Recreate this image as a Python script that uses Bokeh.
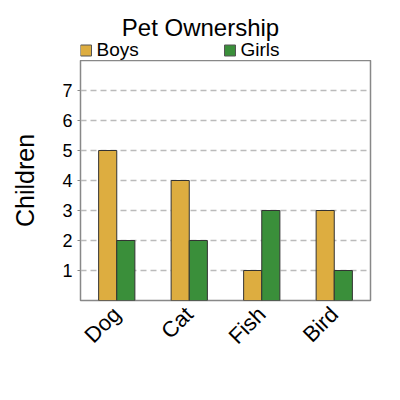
import math
from bokeh.plotting import figure
from bokeh.layouts import column
from bokeh.models import FixedTicker, FactorRange, Range1d
from bokeh.core.properties import value
from bokeh.transform import dodge
from bokeh.embed import file_html
from bokeh.resources import INLINE

categories = ["Dog", "Cat", "Fish", "Bird"]
boys = [5, 4, 1, 3]
girls = [2, 2, 3, 1]
y_ticks = [1, 2, 3, 4, 5, 6, 7]
series_names = ["Boys", "Girls"]
series_colors = ["#DDAD40", "#3A8F3A"]
title_text = "Pet Ownership"

FONT = "Liberation Sans"

# ---- header: title + legend (header frame aligned with main frame; pixel units, y down) ----
h = figure(width=384, height=60, output_backend="svg", toolbar_location=None,
           x_range=Range1d(80, 370), y_range=Range1d(60, 0),
           x_axis_location=None, y_axis_location=None,
           min_border_left=80, min_border_right=14, min_border_top=0, min_border_bottom=0)
h.title = None
h.outline_line_color = None
h.grid.grid_line_color = None

h.text(x=[200], y=[27], text=[title_text], text_align="center", text_baseline="alphabetic",
       text_font=value(FONT), text_font_size="24px", text_color="black")

legend_x = [80, 224]
h.rect(x=[lx + 5.5 for lx in legend_x], y=[50, 50], width=11, height=11,
       fill_color=series_colors, line_color="#555555", line_width=1)
h.text(x=[lx + 16 for lx in legend_x], y=[49, 49], text=series_names,
       text_align="left", text_baseline="alphabetic",
       text_font=value(FONT), text_font_size="19px", text_color="black")

# ---- main chart ----
p = figure(x_range=FactorRange(*categories, range_padding=0), y_range=Range1d(0, 8),
           width=384, height=324, output_backend="svg", toolbar_location=None,
           min_border_left=80, min_border_right=14, min_border_top=0, min_border_bottom=84)
p.title = None

src = dict(cat=categories, boys=boys, girls=girls)
p.vbar(x=dodge('cat', -0.125, range=p.x_range), top='boys', width=0.25, source=src,
       fill_color=series_colors[0], line_color="#333333", line_width=1)
p.vbar(x=dodge('cat', 0.125, range=p.x_range), top='girls', width=0.25, source=src,
       fill_color=series_colors[1], line_color="#333333", line_width=1)

p.outline_line_color = "#888888"
p.outline_line_width = 1.5

p.xgrid.grid_line_color = None
p.ygrid.grid_line_color = "#BBBBBB"
p.ygrid.grid_line_dash = "6 4"
p.ygrid.grid_line_width = 1.5
p.yaxis.ticker = FixedTicker(ticks=y_ticks)

p.xaxis.axis_line_color = None
p.xaxis.major_tick_line_color = None
p.xaxis.minor_tick_line_color = None
p.xaxis.major_label_orientation = math.pi / 4
p.xaxis.major_label_text_font = FONT
p.xaxis.major_label_text_font_size = "22px"
p.xaxis.major_label_text_color = "black"
p.xaxis.major_label_standoff = 4

p.yaxis.axis_line_color = None
p.yaxis.major_tick_line_color = "#888888"
p.yaxis.major_tick_in = 0
p.yaxis.major_tick_out = 3
p.yaxis.minor_tick_line_color = None
p.yaxis.major_label_text_font = FONT
p.yaxis.major_label_text_font_size = "18px"
p.yaxis.major_label_text_color = "black"
p.yaxis.major_label_standoff = 5
p.yaxis.axis_label = "Children"
p.yaxis.axis_label_text_font = FONT
p.yaxis.axis_label_text_font_size = "25px"
p.yaxis.axis_label_text_font_style = "normal"
p.yaxis.axis_label_text_color = "black"
p.yaxis.axis_label_standoff = 20

layout = column(h, p, spacing=0)
open("out.html", "w").write(file_html(layout, INLINE))
